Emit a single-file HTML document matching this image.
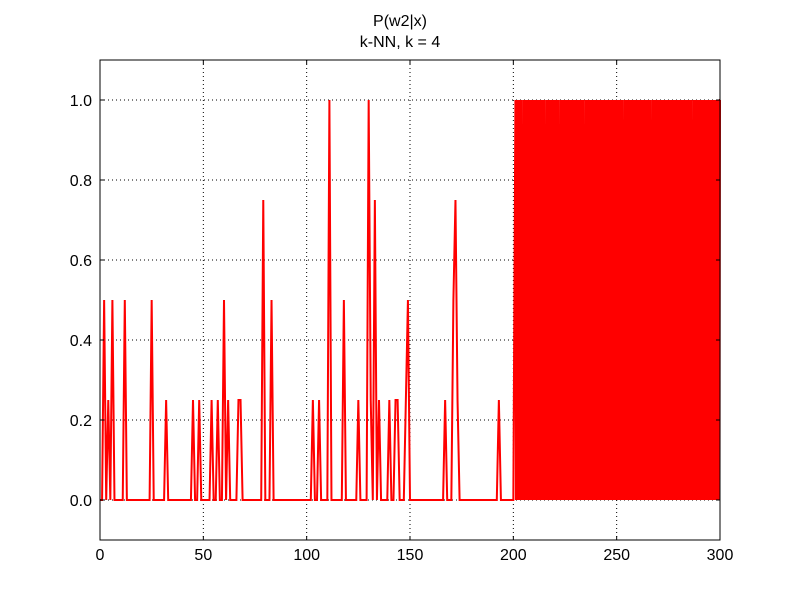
<!DOCTYPE html>
<html><head><meta charset="utf-8"><style>
body{margin:0;background:#fff;}
svg text{font-family:"Liberation Sans","DejaVu Sans",sans-serif;}
</style></head><body>
<svg id="chart" width="800" height="600" viewBox="0 0 800 600">
<rect width="800" height="600" fill="#fff"/>
<text x="400" y="26" text-anchor="middle" font-size="16">P(w2|x)</text>
<text x="400" y="47" text-anchor="middle" font-size="16">k-NN, k = 4</text>
<g id="grid"></g><g id="series"></g><g id="axes"></g>
</svg>
<script>
const xTicks=[0,50,100,150,200,250,300];
const yTicks=[0.0,0.2,0.4,0.6,0.8,1.0];
const yTickLabels=["0.0","0.2","0.4","0.6","0.8","1.0"];
const spikeX=[2,4,6,12,25,32,45,48,54,57,60,62,67,68,79,83,103,106,111,118,125,130,131,133,135,140,143,144,148,149,167,171,172,173,193];
const spikeY=[0.5,0.25,0.5,0.5,0.5,0.25,0.25,0.25,0.25,0.25,0.5,0.25,0.25,0.25,0.75,0.5,0.25,0.25,1,0.5,0.25,1,0.25,0.75,0.25,0.25,0.25,0.25,0.25,0.5,0.25,0.5,0.75,0.25,0.25];
// dense region: samples every 0.25 from x=201 to x=299.75
const denseStart=201, denseStep=0.25;
const denseValues=[
1,0,1,0,1,0,1,0,1,0,1,0,1,0,0.5,0,1,0,1,0,1,0,1,0,1,0,1,0,1,0,1,0,1,0,1,0,1,0,1,0,
1,0,1,0,1,0,1,0,1,0,1,0,1,0,1,0,1,0,0.75,0,1,0,1,0,1,0,1,0,1,0,1,0,1,0,1,0,1,0,1,0,
1,0,1,0,1,0,0.5,0,1,0,1,0,1,0,1,0,1,0,1,0,1,0,1,0,1,0,1,0,1,0,1,0,1,0,1,0,1,0,1,0,
1,0,1,0,1,0,1,0,1,0,1,0,1,0,0.75,0,1,0,1,0,1,0,1,0,1,0,1,0,1,0,1,0,1,0,1,0,1,0,1,0,
1,0,1,0,1,0,1,0,1,0,1,0,1,0,1,0,1,0,1,0,1,0,1,0,1,0,1,0,1,0,1,0,1,0,1,0,1,0,1,0,
1,0,1,0,1,0,1,0,1,0,0.5,0,1,0,1,0,1,0,1,0,1,0,1,0,1,0,1,0,1,0,1,0,1,0,1,0,1,0,1,0,
1,0,1,0,1,0,1,0,1,0,1,0,1,0,1,0,1,0,1,0,1,0,1,0,0.75,0,1,0,1,0,1,0,1,0,1,0,1,0,1,0,
1,0,1,0,1,0,1,0,1,0,1,0,1,0,1,0,1,0,1,0,1,0,1,0,1,0,1,0,1,0,1,0,1,0,1,0,1,0,1,0,
1,0,1,0,1,0,1,0,1,0,1,0,1,0,1,0,1,0,1,0,1,0,0.5,0,1,0,1,0,1,0,1,0,1,0,1,0,1,0,1,0,
1,0,1,0,1,0,1,0,1,0,1,0,1,0,1,0,1,0,1,0,1,0,1,0,1,0,1,0,1,0,1,0,1,0,1,0,1,1];
const NS="http://www.w3.org/2000/svg";
const L=100,R=720,T=60,B=540;
const sx=v=>L+(v-0)/(300-0)*(R-L);
const sy=v=>B-(v-(-0.1))/(1.2)*(B-T);
function mk(tag,attrs,parent){const e=document.createElementNS(NS,tag);for(const k in attrs)e.setAttribute(k,attrs[k]);parent.appendChild(e);return e;}
const pts=[];
for(let i=0;i<=200;i++){const j=spikeX.indexOf(i);pts.push([i,j>=0?spikeY[j]:0]);}
denseValues.forEach((v,i)=>pts.push([denseStart+i*denseStep,v]));
const grid=document.getElementById('grid'),axes=document.getElementById('axes'),series=document.getElementById('series');
xTicks.forEach(t=>{const g=mk('line',{x1:sx(t),x2:sx(t),y1:T,y2:B,stroke:'#000','stroke-dasharray':'1,3','stroke-width':1},grid);


mk('line',{x1:sx(t),x2:sx(t),y1:B,y2:B-4,stroke:'#000'},axes);mk('line',{x1:sx(t),x2:sx(t),y1:T,y2:T+4,stroke:'#000'},axes);
const tx=mk('text',{x:sx(t),y:B+20,'text-anchor':'middle','font-size':16},axes);tx.textContent=t;

});
yTicks.forEach((t,i)=>{const g=mk('line',{x1:L,x2:R,y1:sy(t),y2:sy(t),stroke:'#000','stroke-dasharray':'1,3','stroke-width':1},grid);


mk('line',{x1:L,x2:L+4,y1:sy(t),y2:sy(t),stroke:'#000'},axes);mk('line',{x1:R,x2:R-4,y1:sy(t),y2:sy(t),stroke:'#000'},axes);
const tx=mk('text',{x:L-8,y:sy(t)+6,'text-anchor':'end','font-size':16},axes);tx.textContent=yTickLabels[i];

});
const line=mk('polyline',{points:pts.map(p=>sx(p[0]).toFixed(2)+','+sy(p[1]).toFixed(2)).join(' '),fill:'none',stroke:'#ff0000','stroke-width':2,'stroke-linejoin':'miter'},series);


const fr=mk('rect',{x:L,y:T,width:R-L,height:B-T,fill:'none',stroke:'#000','stroke-width':1},axes);


</script>
</body></html>
